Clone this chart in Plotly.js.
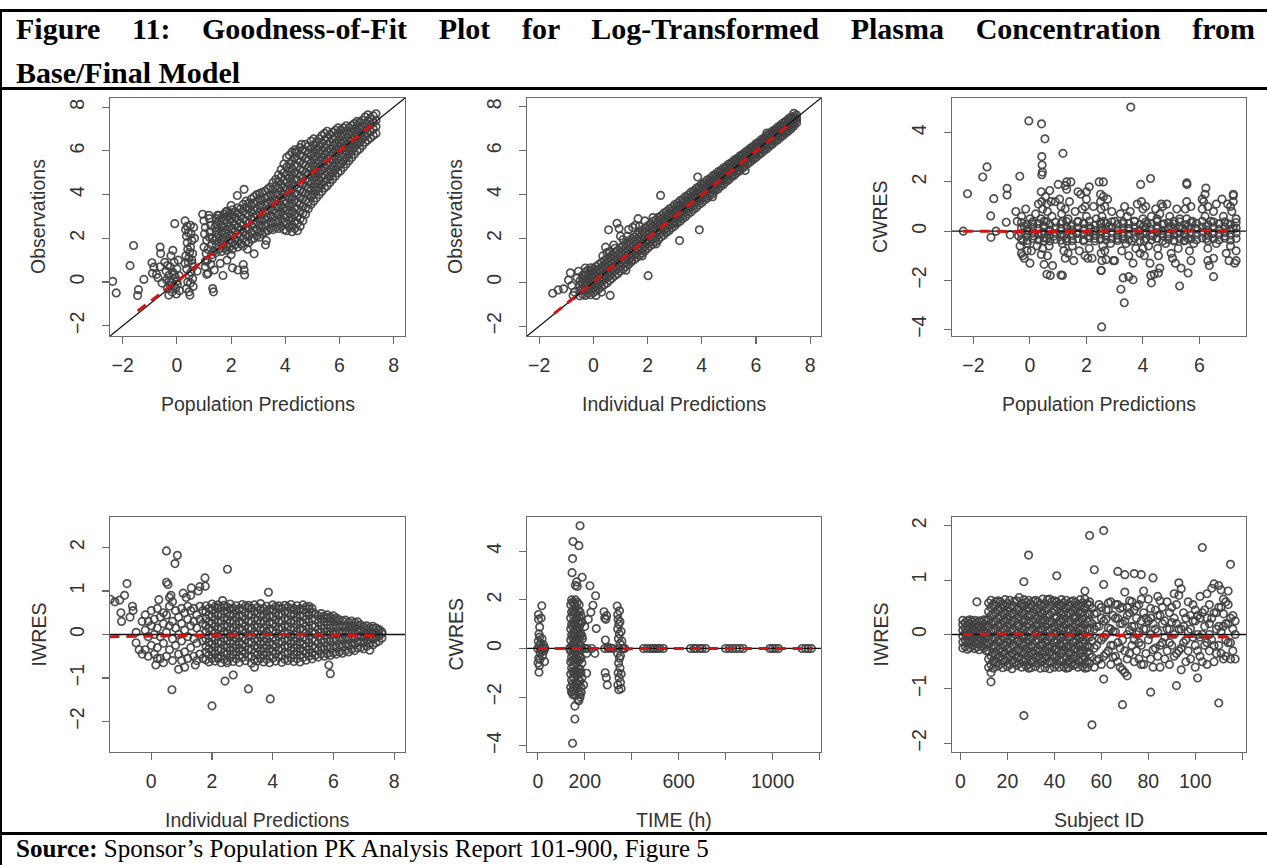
<!DOCTYPE html>
<html>
<head>
<meta charset="utf-8">
<script src="https://cdn.plot.ly/plotly-3.0.1.min.js"></script>
<style>
  html, body { margin: 0; padding: 0; background: #fff; }
  #page { position: relative; width: 1267px; height: 865px; overflow: hidden; background: #fff; }
  #gof { position: absolute; left: 0; top: 0; width: 1267px; height: 865px; }
  .rule { position: absolute; background: #000; }
  .cap { position: absolute; font-family: 'Liberation Serif', 'Times New Roman', serif; color: #000; }
  #title1 { left: 16px; top: 7px; width: 1239px; font-weight: bold; font-size: 30px; line-height: 44px;
            text-align: justify; text-align-last: justify; white-space: normal; }
  #title2 { left: 16px; top: 51px; font-weight: bold; font-size: 30px; line-height: 44px; white-space: nowrap; }
  #source { left: 16px; top: 834px; font-size: 25px; line-height: 30px; white-space: nowrap; }
</style>
</head>
<body>
<div id="page">
  <div id="gof"></div>
  <div class="rule" style="left:0;top:9px;width:1267px;height:3px"></div>
  <div class="rule" style="left:0;top:9px;width:2px;height:856px"></div>
  <div class="rule" style="left:0;top:87px;width:1267px;height:3px"></div>
  <div class="rule" style="left:0;top:832px;width:1267px;height:3px"></div>
  <div class="cap" id="title1">Figure 11: Goodness-of-Fit Plot for Log-Transformed Plasma Concentration from</div>
  <div class="cap" id="title2">Base/Final Model</div>
  <div class="cap" id="source"><b>Source:</b> Sponsor’s Population PK Analysis Report 101-900, Figure 5</div>
</div>
<script>
const W = 1267, H = 865;

// Each panel's data: isolated [x, y] points plus dense "strips"
// written as [x, y1, y2, ...] (several observations sharing one x).

// ---- DV vs PRED ----
const predObsScatter = [
[-2.37,0.03],[-2.24,-0.5],[-1.6,1.67],[-1.73,0.75],[-1.45,-0.62],[-1.42,-0.35],[-1.22,0.12],[-0.92,0.88],[-0.85,0.68],[-0.9,0.4],[-0.75,0.35],[-0.62,1.6],[-0.6,1.3],[-0.62,0.7],[-0.7,0.2],[-0.55,-0.05],
[-0.45,0.9],[-0.4,0.5],[-0.38,0.1],[-0.35,-0.3],[-0.3,0.3],[-0.3,-0.6],[-0.25,0.7],[-0.22,1.2],[-0.2,0.0],[-0.18,-0.45],[-0.15,0.45],[-0.12,-0.2],[-0.1,0.9],[-0.08,2.67],[-0.05,0.2],[-0.02,-0.55],[0.0,0.6],[0.02,-0.1],[0.05,1.0],[0.08,0.3],[0.1,-0.4],[-0.35,0.75],[-0.28,0.05],[-0.15,1.45],[-0.05,-0.3],[-0.25,-0.15],[-0.1,0.35],[0.0,0.05],
[0.3,2.8],[0.32,2.4],[0.35,2.1],[0.38,1.8],[0.4,1.5],[0.33,1.2],[0.42,0.9],[0.36,0.6],[0.45,0.3],[0.4,0.0],[0.35,-0.3],[0.48,-0.6],[0.5,2.6],[0.52,2.2],[0.55,1.9],[0.5,1.6],[0.58,1.3],[0.55,1.0],[0.6,0.7],[0.52,0.45],[0.58,0.15],[0.6,-0.2],[0.45,-0.45],[0.62,2.5],[0.65,2.0],[0.44,1.1],[0.38,2.55],[0.3,0.85],[0.47,1.35],[0.42,2.25],[0.56,0.85],[0.5,-0.05],
[0.95,3.1],[1.0,2.8],[1.05,2.5],[1.02,2.2],[1.1,1.9],[1.0,1.6],[1.08,1.3],[1.12,1.0],[1.05,0.7],[1.15,0.4],[1.2,2.9],[1.25,2.6],[1.22,2.3],[1.3,2.0],[1.28,1.7],[1.35,1.4],[1.3,1.1],[1.25,0.8],[1.38,0.55],[1.32,-0.3],[1.35,-0.45],[1.18,3.05],[0.75,0.5],[1.1,0.35],[1.4,2.5],[1.4,1.9],[1.15,1.5],[1.2,2.05],[1.28,1.25],[1.05,0.95],
[1.7,0.3],[2.05,0.65],[2.25,0.55],[2.45,0.8],[2.48,0.55],[2.5,0.32],[1.6,0.85],[1.85,1.0],[2.85,1.29],[3.27,1.7],[3.3,1.9],[2.6,1.5],[2.0,1.25],
[2.48,4.24],[2.23,3.96],[1.8,3.2],[1.5,3.05],[2.0,3.5],[4.38,5.95],[4.6,6.3]
];
const predObsStrips = [
[1.45,1.35,1.7,2.05,2.3,2.65,2.9],[1.55,1.5,1.85,2.2,2.45,2.8,3.05],[1.65,1.4,1.75,1.95,2.35,2.6,2.95],[1.75,1.55,1.9,2.25,2.5,2.85,3.1],
[1.85,1.45,1.65,2.05,2.4,2.7,3.0,3.25],[1.95,1.6,1.95,2.15,2.55,2.9,3.15],[2.05,1.5,1.8,2.1,2.45,2.75,3.05,3.3],[2.15,1.7,1.95,2.3,2.6,2.95,3.2],
[2.25,1.6,1.9,2.2,2.5,2.85,3.15,3.4],[2.35,1.75,2.05,2.4,2.7,3.0,3.35],[2.45,1.65,2.0,2.3,2.6,2.9,3.25,3.55],[2.55,1.85,2.15,2.45,2.8,3.1,3.4,3.7],
[2.65,1.8,2.1,2.4,2.7,3.05,3.35,3.6],[2.75,1.95,2.25,2.6,2.9,3.2,3.5,3.8],[2.85,2.0,2.35,2.65,2.95,3.3,3.6,3.9],[2.95,2.1,2.4,2.75,3.05,3.35,3.7,4.0],
[3.05,2.05,2.3,2.6,2.9,3.2,3.5,3.8,4.05],[3.15,2.2,2.5,2.8,3.1,3.45,3.75,4.1],[3.25,2.3,2.6,2.9,3.2,3.55,3.85,4.15],[3.35,2.35,2.65,2.95,3.3,3.6,3.9,4.25],
[3.45,2.45,2.75,3.05,3.4,3.7,4.0,4.35],[3.55,2.4,2.7,3.0,3.3,3.6,3.95,4.25,4.55],[3.65,2.5,2.8,3.15,3.45,3.75,4.05,4.4,4.7],[3.75,2.45,2.75,3.1,3.4,3.7,4.0,4.3,4.6,4.9],
[3.85,2.55,2.9,3.2,3.5,3.85,4.15,4.45,4.8,5.15],[3.95,2.4,2.75,3.05,3.4,3.7,4.0,4.35,4.65,5.0,5.4],[4.05,2.35,2.65,3.0,3.3,3.6,3.95,4.25,4.55,4.9,5.25,5.7],
[4.15,2.5,2.8,3.15,3.45,3.8,4.1,4.4,4.75,5.05,5.4,5.8],[4.25,2.3,2.6,2.95,3.25,3.6,3.9,4.25,4.55,4.9,5.2,5.55,5.95],[4.35,2.45,2.75,3.1,3.4,3.75,4.05,4.4,4.7,5.0,5.35,5.7,6.05],
[4.45,2.35,2.7,3.0,3.35,3.65,4.0,4.3,4.65,4.95,5.3,5.6,5.95],[4.55,2.55,2.9,3.2,3.55,3.85,4.2,4.5,4.85,5.15,5.5,5.8,6.15],[4.65,2.8,3.15,3.45,3.8,4.1,4.45,4.75,5.1,5.4,5.75,6.05],
[4.75,3.1,3.4,3.75,4.05,4.4,4.7,5.0,5.35,5.65,6.0,6.3],[4.85,3.35,3.65,4.0,4.3,4.6,4.95,5.25,5.6,5.9,6.2],[4.95,3.55,3.9,4.2,4.5,4.85,5.15,5.45,5.8,6.1,6.45],
[5.05,3.7,4.0,4.35,4.65,4.95,5.3,5.6,5.9,6.25,6.55],[5.15,3.85,4.2,4.5,4.8,5.1,5.45,5.75,6.05,6.4],[5.25,4.0,4.3,4.65,4.95,5.25,5.55,5.9,6.2,6.55],
[5.35,4.15,4.45,4.8,5.1,5.4,5.7,6.0,6.35,6.7],[5.45,4.3,4.6,4.9,5.2,5.55,5.85,6.15,6.5,6.8],[5.55,4.4,4.7,5.05,5.35,5.65,5.95,6.3,6.6,6.9],
[5.65,4.55,4.85,5.15,5.5,5.8,6.1,6.4,6.75],[5.75,4.7,5.0,5.3,5.6,5.9,6.25,6.55,6.85],[5.85,4.85,5.15,5.45,5.75,6.05,6.35,6.65,6.95],
[5.95,5.0,5.3,5.6,5.9,6.2,6.5,6.8,7.05],[6.05,5.1,5.4,5.75,6.05,6.35,6.65,6.95],[6.15,5.25,5.55,5.85,6.15,6.45,6.75,7.05],
[6.25,5.4,5.7,6.0,6.3,6.6,6.9,7.15],[6.35,5.55,5.85,6.15,6.45,6.75,7.05],[6.45,5.7,6.0,6.3,6.55,6.85,7.15],
[6.55,5.85,6.15,6.4,6.7,7.0,7.25],[6.65,6.0,6.3,6.55,6.85,7.15,7.35],[6.75,6.1,6.4,6.7,7.0,7.3],[6.85,6.25,6.55,6.85,7.1,7.4],
[6.95,6.4,6.65,6.95,7.25,7.55],[7.05,6.5,6.8,7.1,7.35,7.65],[7.15,6.6,6.9,7.2,7.5],[7.25,6.7,7.0,7.3,7.6],[7.35,6.8,7.1,7.4,7.7]
];

// ---- DV vs IPRED ----
const ipredObsScatter = [
[-1.5,-0.5],[-1.3,-0.35],[-1.1,-0.3],[-0.85,0.43],[-0.92,0.1],[-0.8,-0.15],[-0.7,-0.45],[-0.6,0.2],[-0.75,-0.6],[0.62,-0.6],[0.56,2.39],[0.87,2.69],[0.95,2.45],[0.45,1.6],[0.5,1.35],[0.6,1.4],[0.75,1.7],[1.25,2.1],[1.3,2.4],[1.45,2.5],[1.55,2.6],[1.65,2.9],[1.0,2.1],[2.48,3.96],[2.02,0.3],[2.32,1.75],[3.18,1.9],[3.91,2.39],[3.85,4.8],[1.8,1.2],[1.2,0.55],[0.3,-0.45],[0.1,-0.6],[2.7,2.3],[3.0,2.7],[1.4,1.0],[0.35,1.2],[-0.3,0.65],[-0.55,0.5],[5.6,5.1],[6.4,6.8],[7.4,7.7],[4.4,3.9],[1.9,2.8],[1.1,1.95],[1.7,2.55],[2.2,2.95],[0.8,1.55]
];
const ipredObsStrips = [
[-0.5,-0.62,-0.38,-0.15,0.06],[-0.4,-0.55,-0.3,-0.08,0.14,0.32],[-0.3,-0.6,-0.36,-0.13,0.09,0.3,0.46],[-0.2,-0.5,-0.28,-0.05,0.17,0.37,0.56],
[-0.1,-0.57,-0.33,-0.1,0.12,0.33,0.52,0.66],[0.0,-0.47,-0.24,0.0,0.21,0.43,0.62],[0.1,-0.38,-0.16,0.06,0.29,0.5,0.72],[0.2,-0.31,-0.07,0.15,0.37,0.59,0.81],
[0.3,-0.2,0.02,0.24,0.46,0.68,0.9],[0.4,-0.11,0.12,0.33,0.56,0.77,0.99],[0.5,-0.03,0.21,0.43,0.65,0.87,1.06],[0.6,0.09,0.31,0.53,0.75,0.96,1.16],
[0.7,0.19,0.41,0.64,0.85,1.06,1.27],[0.8,0.31,0.52,0.73,0.95,1.16,1.36],[0.9,0.39,0.61,0.83,1.04,1.26,1.46],[1.0,0.51,0.72,0.93,1.15,1.35,1.57],
[1.1,0.6,0.82,1.03,1.25,1.46,1.66],[1.2,0.72,0.92,1.14,1.36,1.56,1.77],[1.3,0.81,1.02,1.24,1.45,1.67,1.86],[1.4,0.93,1.13,1.35,1.56,1.76,1.97],
[1.5,1.02,1.23,1.45,1.66,1.87,2.06],[1.6,1.13,1.34,1.55,1.75,1.97,2.17],[1.7,1.22,1.44,1.64,1.86,2.07,2.27],[1.8,1.33,1.54,1.75,1.96,2.16,2.37],
[1.9,1.43,1.63,1.85,2.06,2.27,2.46],[2.0,1.55,1.77,1.93,2.18,2.36,2.57],[2.1,1.66,1.84,2.07,2.25,2.47,2.64],[2.2,1.73,1.96,2.14,2.37,2.55,2.77],
[2.3,1.86,2.03,2.27,2.45,2.68,2.84],[2.4,1.94,2.17,2.35,2.57,2.74,2.96],[2.5,2.07,2.24,2.47,2.65,2.88,3.03],[2.6,2.15,2.38,2.55,2.78,2.94,3.15],
[2.7,2.28,2.45,2.68,2.85,3.07,3.22],[2.8,2.36,2.58,2.76,2.98,3.13,3.34],[2.9,2.49,2.66,2.88,3.04,3.27,3.41],[3.0,2.57,2.79,2.95,3.18,3.33,3.53],
[3.1,2.7,2.86,3.09,3.24,3.46,3.6],[3.2,2.78,2.99,3.15,3.38,3.52,3.72],[3.3,2.91,3.06,3.29,3.44,3.65,3.79],[3.4,2.99,3.2,3.35,3.57,3.72,3.91],
[3.5,3.12,3.27,3.49,3.64,3.85,3.98],[3.6,3.2,3.41,3.55,3.77,3.91,4.1],[3.7,3.33,3.48,3.69,3.84,4.04,4.17],[3.8,3.41,3.62,3.76,3.97,4.1,4.29],
[3.9,3.54,3.69,3.89,4.03,4.24,4.36],[4.0,3.62,3.82,3.96,4.17,4.3,4.47],[4.1,3.75,3.89,4.1,4.23,4.43,4.55],[4.2,3.83,4.03,4.16,4.37,4.49,4.66],
[4.3,3.96,4.09,4.3,4.43,4.62,4.73],[4.4,4.04,4.23,4.36,4.57,4.68,4.85],[4.5,4.17,4.3,4.5,4.63,4.81,4.92],[4.6,4.25,4.44,4.56,4.76,4.87,5.03],
[4.7,4.38,4.5,4.7,4.82,5.0,5.1],[4.8,4.46,4.64,4.76,4.96,5.06,5.21],[4.9,4.59,4.7,4.9,5.02,5.19,5.28],[5.0,4.67,4.84,4.96,5.15,5.25,5.39],
[5.1,4.8,4.9,5.1,5.21,5.38,5.46],[5.2,4.88,5.04,5.16,5.34,5.44,5.57],[5.3,5.0,5.1,5.29,5.4,5.57,5.64],[5.4,5.08,5.24,5.35,5.53,5.63,5.75],
[5.5,5.2,5.3,5.48,5.6,5.76,5.82],[5.6,5.29,5.44,5.55,5.72,5.82,5.93],[5.7,5.4,5.5,5.68,5.79,5.95,6.01],[5.8,5.49,5.64,5.75,5.91,6.02,6.12],
[5.9,5.6,5.7,5.87,5.98,6.14,6.2],[6.0,5.69,5.84,5.95,6.1,6.21,6.31],[6.1,5.8,5.9,6.07,6.18,6.33,6.39],[6.2,5.89,6.04,6.15,6.3,6.4,6.5],
[6.3,6.0,6.1,6.27,6.37,6.52,6.58],[6.4,6.09,6.24,6.34,6.49,6.59,6.69],[6.5,6.2,6.3,6.46,6.57,6.71,6.77],[6.6,6.29,6.43,6.54,6.68,6.78,6.88],
[6.7,6.4,6.5,6.66,6.76,6.9,6.96],[6.8,6.49,6.63,6.73,6.88,6.97,7.07],[6.9,6.6,6.7,6.85,6.95,7.09,7.15],[7.0,6.69,6.83,6.93,7.07,7.16,7.26],
[7.1,6.8,6.9,7.05,7.14,7.28,7.34],[7.2,6.89,7.03,7.12,7.26,7.35,7.45],[7.3,7.0,7.1,7.24,7.33,7.47,7.53],[7.4,7.12,7.22,7.31,7.45,7.56],[7.5,7.26,7.38,7.5,7.62]
];

// ---- CWRES vs PRED ----
const predCwresScatter = [
[-2.21,1.52],[-2.36,0.0],[-1.67,2.2],[-1.52,2.61],[-1.39,0.62],[-1.28,1.32],[-1.38,-0.25],[-1.2,0.0],[-0.81,1.74],[-0.81,1.47],[-0.84,0.36],[-0.7,-0.15],[-0.36,2.23],[-0.04,4.48],[0.41,4.36],[0.53,3.75],[0.42,3.03],[0.43,2.69],[0.44,2.4],[0.42,2.29],[1.17,3.16],[3.57,5.04],[4.27,2.14],[3.92,1.9],[5.55,1.96],[5.56,1.9],[6.23,1.75],[2.54,-3.89],[3.34,-2.91],[3.22,-2.36],[3.3,-1.9],[3.5,-1.85],[3.65,-1.98],[4.3,-2.1],[4.28,-1.8],[4.4,-1.75],[5.3,-2.23],[5.6,-1.7],[6.5,-1.85],[2.52,-1.6],[0.6,-1.75],[1.1,-1.78],[1.25,1.85],[1.45,2.0],[2.0,1.6],[2.6,2.0],[1.95,1.0],[0.9,1.2],[-0.25,-1.0],[-0.1,-0.8],[6.1,1.3],[7.2,1.45],[7.3,-1.2],[4.65,1.1],[3.0,-1.2],[2.05,-1.1],
[-0.5,0.8],[-0.45,0.4],[-0.4,-0.2],[-0.35,-0.6],[-0.3,-0.9],[-0.3,0.6],[-0.25,-0.4],[-0.2,0.2],[-0.2,-1.1],[-0.15,0.9],[-0.1,-0.5],[-0.05,0.0],[0.0,-1.3],[0.0,0.5],[0.05,-0.8],[0.1,0.3],[0.15,-0.2],[0.2,0.7],[0.25,-0.6],[0.3,1.1],
[0.4,1.6],[0.42,1.2],[0.45,0.9],[0.4,0.5],[0.48,0.2],[0.42,-0.1],[0.5,-0.4],[0.45,-0.7],[0.4,-0.95],[0.5,-1.35],[0.55,1.4],[0.6,1.1],[0.62,0.8],[0.58,0.4],[0.65,0.0],[0.6,-0.3],[0.68,-0.6],[0.62,-1.0],[0.72,-1.8],[0.7,1.65],[0.75,1.2],[0.78,0.6],[0.8,-1.4],[0.85,-0.2],
[1.0,1.9],[1.05,1.3],[1.1,1.0],[1.12,0.7],[1.15,0.4],[1.1,0.1],[1.2,-0.2],[1.15,-0.5],[1.2,-0.8],[1.25,-1.1],[1.15,-1.8],[1.3,1.7],[1.3,2.0],[1.25,0.9],[1.35,0.5],[1.3,-0.4],[1.35,-0.9],[1.4,1.2],[1.45,0.2],[1.5,-0.6],[1.55,-1.2],[1.6,0.8],[1.65,-0.1],[1.7,0.4],
[1.8,1.5],[1.85,0.9],[1.9,0.3],[1.9,-0.4],[1.95,-1.0],[2.0,1.3],[2.0,0.6],[2.05,-0.2],[2.1,-0.7],[2.1,1.8],[2.15,0.1],[2.2,-1.1],[2.25,1.0],[2.3,-0.3],[2.35,0.5],[1.75,-0.8],[1.7,1.6],
[2.45,2.0],[2.5,1.5],[2.5,1.2],[2.52,0.9],[2.55,0.6],[2.5,0.3],[2.55,0.0],[2.5,-0.3],[2.58,-0.6],[2.52,-0.9],[2.55,-1.2],[2.52,-1.6],[2.6,1.4],[2.65,1.0],[2.62,0.4],[2.68,-0.2],[2.65,-0.8],[2.7,-1.15],[2.75,1.3],[2.8,0.2],[2.85,-0.5],[2.9,0.8],[2.95,-1.2],[3.0,0.4],
[3.1,-0.3],[3.2,0.7],[3.25,-0.8],[3.3,0.3],[3.3,-0.2],[3.35,1.0],[3.4,-0.5],[3.45,0.6],[3.5,-1.0],[3.5,0.1],[3.55,0.8],[3.6,-0.4],[3.65,-1.3],[3.7,0.4],[3.75,-0.7],[3.8,1.1],[3.85,0.0],[3.9,-0.9],
[3.95,1.2],[4.0,0.9],[4.0,0.5],[4.02,0.2],[4.0,-0.1],[4.05,-0.4],[4.0,-0.7],[4.05,-1.0],[4.1,1.0],[4.15,0.3],[4.2,-0.6],[4.25,-1.3],[4.3,0.6],[4.35,-0.2],
[4.45,0.9],[4.5,0.5],[4.5,0.1],[4.5,-0.3],[4.52,-0.7],[4.55,-1.0],[4.6,-1.5],[4.55,-1.7],[4.6,0.7],[4.65,-0.1],[4.7,1.0],[4.75,0.3],[4.8,-0.5],[4.85,1.1],[4.9,-0.2],
[4.95,0.6],[5.0,0.2],[5.0,-0.9],[5.05,-1.1],[5.1,0.4],[5.1,-0.4],[5.15,-1.3],[5.2,0.9],[5.2,-0.1],[5.25,-0.7],[5.3,0.5],[5.35,-1.5],[5.4,0.1],[5.45,-0.4],
[5.5,0.9],[5.55,0.5],[5.55,1.2],[5.6,0.2],[5.6,-0.3],[5.65,-0.8],[5.7,1.0],[5.7,-1.2],[5.75,0.4],[5.8,-0.5],[5.85,0.1],
[6.1,0.9],[6.15,1.2],[6.2,1.5],[6.2,0.6],[6.25,0.2],[6.25,-0.3],[6.3,-0.7],[6.3,-1.2],[6.35,-1.4],[6.3,1.0],[6.4,0.4],[6.45,-0.1],[6.5,0.8],[6.5,-1.1],[6.6,1.1],[6.6,-0.5],[6.7,0.3],
[6.8,1.3],[6.85,0.6],[6.9,-0.2],[6.95,-0.9],[7.0,1.1],[7.0,0.3],[7.05,-1.2],[7.1,-0.6],[7.15,0.8],[7.2,1.5],[7.2,0.1],[7.25,-1.3],[7.3,0.5],[7.3,-0.8],[7.2,1.2],[7.1,1.0]
];
const predCwresStrips = [
[-0.3,-0.32,-0.1,0.12,0.35],[-0.1,-0.38,-0.15,0.06,0.28],[0.1,-0.3,-0.08,0.15,0.38],[0.3,-0.36,-0.12,0.1,0.31],[0.5,-0.28,-0.05,0.18,0.4],
[0.7,-0.4,-0.16,0.05,0.27],[0.9,-0.33,-0.1,0.13,0.36],[1.1,-0.37,-0.14,0.08,0.3],[1.3,-0.29,-0.06,0.16,0.39],[1.5,-0.39,-0.17,0.04,0.26],
[1.7,-0.31,-0.09,0.14,0.37],[1.9,-0.35,-0.13,0.09,0.32],[2.1,-0.27,-0.04,0.19,0.41],[2.3,-0.4,-0.18,0.03,0.25],[2.5,-0.33,-0.11,0.12,0.35],
[2.7,-0.36,-0.15,0.07,0.3],[2.9,-0.3,-0.07,0.15,0.38],[3.1,-0.38,-0.16,0.05,0.28],[3.3,-0.32,-0.1,0.13,0.36],[3.5,-0.35,-0.13,0.09,0.31],
[3.7,-0.28,-0.05,0.17,0.4],[3.9,-0.39,-0.17,0.04,0.27],[4.1,-0.31,-0.08,0.14,0.37],[4.3,-0.36,-0.14,0.08,0.3],[4.5,-0.29,-0.06,0.16,0.39],
[4.7,-0.4,-0.18,0.03,0.26],[4.9,-0.33,-0.11,0.11,0.34],[5.1,-0.37,-0.15,0.07,0.29],[5.3,-0.3,-0.08,0.15,0.38],[5.5,-0.38,-0.16,0.05,0.27],
[5.7,-0.32,-0.1,0.12,0.35],[5.9,-0.35,-0.13,0.09,0.32],[6.1,-0.28,-0.05,0.17,0.4],[6.3,-0.39,-0.17,0.04,0.26],[6.5,-0.31,-0.09,0.14,0.37],
[6.7,-0.36,-0.14,0.08,0.3],[6.9,-0.29,-0.06,0.16,0.38],[7.1,-0.37,-0.15,0.06,0.28],[7.3,-0.3,-0.08,0.13,0.35]
];

// ---- IWRES vs IPRED ----
const ipredIwresScatter = [
[-1.35,0.81],[-1.04,0.79],[-0.8,1.17],[-0.88,0.9],[-1.0,0.5],[-0.98,0.3],[-0.62,0.65],[-0.6,0.55],[-0.5,-0.19],[0.5,1.92],[0.86,1.82],[0.78,1.63],[0.5,1.2],[0.55,1.15],[0.68,-1.27],[2.0,-1.64],[2.51,1.5],[2.43,-1.07],[2.7,-0.93],[3.2,-1.25],[3.86,0.97],[3.92,-1.48],[1.77,1.3],[1.78,1.11],[1.32,1.07],[1.3,0.9],[5.85,-0.7],[5.9,-0.9],[-1.2,0.75],[-0.7,0.4],[-0.4,-0.35],[-0.3,-0.45],[0.6,0.85],[0.7,0.75],[1.05,0.95],[1.55,1.0],[1.6,1.1],[0.9,-0.8],[1.1,-0.75],[0.4,-0.65],[0.2,-0.55],[1.45,-0.7],[2.5,-0.65],[3.4,-0.75],[2.2,-0.55],[2.35,0.78],[-0.5,0.05],[-0.3,0.3],[0.25,0.8],[0.65,0.9],[1.15,0.85],[0.15,-0.7]
];
const ipredIwresStrips = [
[-0.2,-0.35,0.1,0.45],[-0.1,-0.5,-0.05,0.3],[0.0,-0.25,0.2,0.55],[0.1,-0.45,0.0,0.35],[0.2,-0.3,0.15,0.6],[0.3,-0.55,-0.05,0.4],[0.4,-0.2,0.25,0.5],[0.5,-0.5,0.05,0.45],
[0.6,-0.35,0.2,0.65],[0.7,-0.6,-0.1,0.3],[0.8,-0.25,0.15,0.55],[0.9,-0.45,0.0,0.4],[1.0,-0.6,-0.15,0.25,0.6],[1.1,-0.4,0.1,0.5],[1.2,-0.55,-0.05,0.35,0.65],[1.3,-0.3,0.2,0.55],
[1.4,-0.5,-0.1,0.3,0.6],[1.5,-0.6,-0.2,0.15,0.45],[1.6,-0.45,0.0,0.35,0.65],[1.7,-0.55,-0.15,0.25,0.55],
[1.8,-0.58,-0.41,-0.27,-0.1,0.06,0.2,0.37,0.52,0.66],[1.9,-0.63,-0.47,-0.33,-0.18,-0.02,0.14,0.29,0.45,0.6],[2.0,-0.55,-0.38,-0.22,-0.07,0.1,0.25,0.41,0.57,0.7],
[2.1,-0.61,-0.44,-0.29,-0.13,0.03,0.18,0.34,0.49,0.64],[2.2,-0.52,-0.36,-0.2,-0.04,0.13,0.28,0.44,0.6,0.68],[2.3,-0.65,-0.49,-0.34,-0.16,-0.01,0.16,0.31,0.47,0.62],
[2.4,-0.57,-0.4,-0.25,-0.09,0.07,0.22,0.39,0.54,0.67],[2.5,-0.6,-0.45,-0.3,-0.14,0.02,0.18,0.33,0.5,0.63],[2.6,-0.54,-0.37,-0.21,-0.05,0.11,0.27,0.43,0.58,0.7],
[2.7,-0.62,-0.46,-0.31,-0.15,0.0,0.15,0.32,0.47,0.61],[2.8,-0.56,-0.39,-0.24,-0.08,0.08,0.23,0.4,0.55,0.66],[2.9,-0.64,-0.48,-0.32,-0.17,-0.03,0.13,0.3,0.44,0.59],
[3.0,-0.53,-0.37,-0.23,-0.06,0.11,0.26,0.42,0.58,0.69],[3.1,-0.6,-0.43,-0.28,-0.12,0.04,0.19,0.35,0.5,0.65],[3.2,-0.51,-0.35,-0.19,-0.03,0.14,0.29,0.45,0.61,0.67],
[3.3,-0.66,-0.5,-0.35,-0.17,-0.02,0.15,0.3,0.46,0.61],[3.4,-0.58,-0.41,-0.26,-0.1,0.06,0.21,0.38,0.53,0.68],[3.5,-0.61,-0.46,-0.31,-0.15,0.01,0.17,0.32,0.49,0.62],
[3.6,-0.55,-0.38,-0.22,-0.06,0.1,0.26,0.42,0.57,0.71],[3.7,-0.63,-0.47,-0.32,-0.16,-0.01,0.14,0.31,0.46,0.6],[3.8,-0.57,-0.4,-0.25,-0.09,0.07,0.22,0.39,0.54,0.65],
[3.9,-0.65,-0.49,-0.33,-0.18,-0.04,0.12,0.29,0.43,0.58],[4.0,-0.54,-0.38,-0.24,-0.07,0.1,0.25,0.41,0.57,0.68],[4.1,-0.61,-0.44,-0.29,-0.13,0.03,0.18,0.34,0.49,0.64],
[4.2,-0.52,-0.36,-0.2,-0.04,0.13,0.28,0.44,0.59,0.66],[4.3,-0.64,-0.48,-0.33,-0.16,-0.01,0.16,0.31,0.47,0.61],[4.4,-0.57,-0.41,-0.26,-0.1,0.06,0.21,0.38,0.53,0.67],
[4.5,-0.6,-0.44,-0.29,-0.14,0.02,0.18,0.33,0.5,0.63],[4.6,-0.54,-0.37,-0.21,-0.05,0.11,0.27,0.43,0.58,0.69],[4.7,-0.62,-0.46,-0.31,-0.15,0.0,0.15,0.32,0.47,0.6],
[4.8,-0.56,-0.39,-0.24,-0.08,0.08,0.23,0.4,0.55,0.66],[4.9,-0.63,-0.47,-0.32,-0.17,-0.03,0.13,0.3,0.44,0.59],[5.0,-0.53,-0.37,-0.23,-0.06,0.11,0.26,0.42,0.57,0.68],
[5.1,-0.59,-0.43,-0.28,-0.12,0.04,0.19,0.35,0.5,0.63],[5.2,-0.5,-0.34,-0.19,-0.03,0.14,0.29,0.45,0.58,0.65],[5.3,-0.56,-0.42,-0.27,-0.11,0.05,0.2,0.36,0.51,0.6],
[5.4,-0.48,-0.31,-0.15,0.02,0.18,0.35,0.47],[5.5,-0.52,-0.36,-0.2,-0.04,0.12,0.28,0.43],[5.6,-0.45,-0.29,-0.12,0.05,0.2,0.36,0.48],[5.7,-0.5,-0.34,-0.18,-0.02,0.14,0.3,0.42],
[5.8,-0.44,-0.27,-0.1,0.06,0.22,0.37,0.45],[5.9,-0.48,-0.32,-0.16,0.0,0.15,0.3,0.4],[6.0,-0.42,-0.26,-0.1,0.06,0.21,0.35,0.43],[6.1,-0.45,-0.3,-0.14,0.02,0.16,0.3,0.38],
[6.2,-0.4,-0.24,-0.08,0.07,0.21,0.34],[6.3,-0.43,-0.28,-0.12,0.03,0.17,0.31],[6.4,-0.37,-0.22,-0.07,0.08,0.2,0.33],[6.5,-0.4,-0.26,-0.11,0.03,0.16,0.28],
[6.6,-0.34,-0.2,-0.06,0.08,0.2,0.31],[6.7,-0.37,-0.23,-0.09,0.04,0.16,0.27],[6.8,-0.31,-0.18,-0.05,0.08,0.2,0.29],[6.9,-0.3,-0.16,-0.03,0.1,0.22],
[7.0,-0.33,-0.19,-0.06,0.06,0.17],[7.1,-0.27,-0.14,-0.01,0.11,0.2],[7.2,-0.36,-0.2,-0.06,0.06,0.16],[7.3,-0.24,-0.11,0.02,0.13,0.19],
[7.4,-0.19,-0.07,0.04,0.15],[7.5,-0.15,-0.03,0.08,0.12],[7.6,-0.08,0.02,0.06]
];

// ---- CWRES vs TIME ----
const timeCwresScatter = [
[0,0.0],[2,0.3],[3,1.4],[3,1.2],[4,-0.4],[5,0.6],[5,-0.98],[6,0.1],[7,-0.7],[8,0.47],[8,0.88],[10,-0.2],[12,0.2],[15,-0.05],[17,1.76],[18,0.4],[20,-0.3],[22,0.05],[24,0.15],[26,-0.1],[29,-0.54],[30,0.0],[1,-0.6],[9,-0.45],[14,1.25],[11,0.0],[25,0.0],[28,0.02],
[180,5.05],[150,4.4],[175,4.23],[148,3.7],[146,3.12],[165,2.74],[189,2.93],[222,2.58],[246,2.17],[160,2.6],[168,2.55],[235,1.78],[226,1.49],[249,0.82],[208,-0.2],[208,-1.02],[243,-0.2],[158,-2.37],[158,-2.9],[148,-3.9],[180,-2.0],[175,-2.15],[185,-1.8],[190,0.4],[215,1.2],[230,0.0],[200,0.9],[195,-1.5],[170,-2.1],[145,-1.75],[150,-1.9],
[282,1.51],[285,1.25],[290,1.2],[288,0.35],[292,-1.2],[296,-1.5],[285,0.0],[300,0.0],[310,0.02],[293,1.35],[287,-1.0],[298,0.05],
[338,1.75],[340,1.4],[342,1.2],[345,1.0],[340,0.8],[347,0.6],[343,0.4],[350,0.2],[345,0.0],[340,-0.2],[348,-0.4],[344,-0.6],[350,-0.8],[342,-1.0],[346,-1.2],[352,-1.4],[341,-1.5],[345,-1.7],[355,-1.65],[350,1.1],[355,0.7],[352,-0.3],[358,0.3],[360,0.0],[365,0.0],[370,0.0],[348,1.55],[355,-1.05],
[135,0.0],[150,0.0],[165,0.0],[200,0.0],[210,0.0],[320,0.0],
[450,0.0],[465,0.0],[480,0.0],[490,0.0],[500,0.0],[510,0.0],[520,0.0],[535,0.0],[650,0.0],[665,0.0],[675,0.0],[690,0.0],[700,0.0],[715,0.0],
[800,0.0],[815,0.0],[830,0.0],[845,0.0],[860,0.0],[875,0.0],[988,0.0],[1000,0.0],[1012,0.0],[1025,0.0],[1125,0.0],[1140,0.0],[1152,0.0],[1165,0.0]
];
const timeCwresStrips = [
[140,-1.6,-1.05,-0.55,-0.1,0.35,0.8,1.25,1.8],[144,-1.8,-1.3,-0.8,-0.35,0.1,0.55,1.0,1.5,2.0],[148,-1.45,-0.95,-0.5,0.0,0.45,0.9,1.4,1.9],
[152,-1.7,-1.2,-0.7,-0.25,0.2,0.65,1.1,1.6],[156,-1.55,-1.0,-0.45,0.05,0.5,1.0,1.5,1.85],[160,-1.9,-1.4,-0.9,-0.4,0.05,0.5,0.95,1.45,2.0],
[164,-1.6,-1.1,-0.6,-0.15,0.3,0.75,1.2,1.7],[168,-1.45,-0.95,-0.45,0.0,0.45,0.9,1.4,1.9],[172,-1.8,-1.3,-0.8,-0.3,0.15,0.6,1.05,1.55],
[176,-1.5,-1.0,-0.5,-0.05,0.4,0.85,1.3,1.8],[180,-1.9,-1.35,-0.85,-0.35,0.1,0.55,1.0,1.5],[184,-1.6,-1.0,-0.4,0.1,0.6,1.05,1.35],[188,-1.2,-0.6,0.0,0.5,1.1]
];

// ---- IWRES vs subject ID ----
const idIwresScatter = [];
const idIwresStrips = [
[1,-0.25,-0.14,-0.03,0.08,0.18,0.26],[2,-0.22,-0.1,0.02,0.12,0.22],[3,-0.27,-0.16,-0.05,0.06,0.16,0.25],[4,-0.24,-0.12,-0.01,0.1,0.2,0.27],
[5,-0.2,-0.08,0.03,0.14,0.24],[6,-0.26,-0.15,-0.04,0.07,0.17,0.26],[7,-0.23,-0.11,0.0,0.11,0.21,0.6],[8,-0.28,-0.17,-0.06,0.05,0.15,0.25],
[9,-0.21,-0.09,0.02,0.13,0.23],[10,-0.25,-0.14,-0.03,0.08,0.19,0.27],[11,-0.3,-0.18,-0.07,0.04,0.15,0.26],
[12,-0.6,-0.45,-0.3,-0.16,-0.02,0.13,0.27,0.42,0.58],[13,-0.87,-0.7,-0.55,-0.39,-0.24,-0.09,0.06,0.2,0.35,0.5,0.63],[14,-0.62,-0.48,-0.33,-0.2,-0.05,0.09,0.24,0.38,0.55],
[15,-0.52,-0.37,-0.22,-0.06,0.09,0.23,0.39,0.53,0.6],[16,-0.58,-0.44,-0.29,-0.14,0.0,0.15,0.29,0.44,0.62],[17,-0.54,-0.4,-0.25,-0.1,0.05,0.19,0.34,0.49,0.6],
[18,-0.61,-0.46,-0.31,-0.18,-0.03,0.11,0.26,0.41,0.56],[19,-0.5,-0.36,-0.21,-0.07,0.08,0.22,0.37,0.52,0.64],[20,-0.59,-0.43,-0.28,-0.15,-0.01,0.14,0.28,0.43,0.57],
[21,-0.55,-0.39,-0.24,-0.09,0.06,0.2,0.35,0.5,0.63],[22,-0.63,-0.47,-0.34,-0.19,-0.04,0.1,0.25,0.39,0.54],[23,-0.51,-0.38,-0.21,-0.07,0.08,0.24,0.38,0.52,0.61],
[24,-0.57,-0.43,-0.3,-0.13,0.01,0.16,0.3,0.45,0.62],[25,-0.53,-0.41,-0.26,-0.11,0.04,0.18,0.33,0.48,0.68],[26,-0.6,-0.45,-0.32,-0.17,-0.02,0.12,0.27,0.4,0.57],
[27,-1.49,-0.5,-0.36,-0.21,-0.07,0.08,0.22,0.37,0.52,0.64,0.97],[28,-0.58,-0.46,-0.29,-0.15,-0.03,0.14,0.26,0.43,0.59],[29,-0.62,-0.55,-0.39,-0.24,-0.09,0.06,0.2,0.35,0.5,0.63,1.46],
[30,-0.61,-0.47,-0.32,-0.21,-0.06,0.08,0.25,0.37,0.56],[31,-0.51,-0.36,-0.23,-0.05,0.1,0.22,0.4,0.52,0.61],[32,-0.59,-0.43,-0.3,-0.13,0.01,0.16,0.28,0.45,0.63],
[33,-0.53,-0.39,-0.26,-0.09,0.06,0.18,0.35,0.48,0.6],[34,-0.62,-0.45,-0.3,-0.19,-0.02,0.1,0.27,0.42,0.55],[35,-0.49,-0.37,-0.2,-0.08,0.09,0.21,0.38,0.51,0.65],
[36,-0.61,-0.44,-0.31,-0.15,-0.03,0.14,0.26,0.43,0.57],[37,-0.54,-0.4,-0.23,-0.1,0.07,0.19,0.36,0.49,0.64],[38,-0.63,-0.49,-0.32,-0.21,-0.04,0.08,0.25,0.37,0.65],
[39,-0.51,-0.38,-0.23,-0.05,0.1,0.22,0.4,0.54,0.61],[40,-0.6,-0.43,-0.28,-0.15,0.01,0.14,0.3,0.45,0.62],[41,-0.55,-0.39,-0.26,-0.09,0.04,0.2,0.33,0.5,0.6,1.08],
[42,-0.6,-0.47,-0.3,-0.19,-0.02,0.12,0.25,0.42,0.55],[43,-0.5,-0.35,-0.22,-0.06,0.07,0.23,0.36,0.53,0.64],[44,-0.59,-0.46,-0.29,-0.17,-0.01,0.12,0.28,0.41,0.58],
[45,-0.62,-0.54,-0.4,-0.23,-0.1,0.07,0.19,0.36,0.49,0.63],[46,-0.61,-0.49,-0.32,-0.21,-0.04,0.1,0.23,0.39,0.54],[47,-0.53,-0.36,-0.23,-0.05,0.08,0.24,0.38,0.54,0.6],
[48,-0.57,-0.45,-0.28,-0.15,0.01,0.14,0.3,0.43,0.62],[49,-0.55,-0.39,-0.26,-0.09,0.04,0.2,0.33,0.5,0.59],[50,-0.6,-0.47,-0.3,-0.19,-0.02,0.12,0.25,0.42,0.55],
[51,-0.51,-0.35,-0.22,-0.06,0.09,0.21,0.38,0.51,0.64],[52,-0.59,-0.46,-0.29,-0.17,-0.01,0.12,0.28,0.41,0.58],[53,-0.62,-0.54,-0.4,-0.23,-0.1,0.07,0.19,0.36,0.49,0.65,0.8],
[54,-0.61,-0.49,-0.32,-0.21,-0.04,0.1,0.23,0.39,0.56],[55,-0.53,-0.36,-0.23,-0.05,0.08,0.24,0.38,0.54,0.6,1.82],
[56,-1.66,-0.42,-0.12,0.2,0.48],[57,-0.6,-0.25,0.1,0.38,1.19],[58,-0.48,-0.2,0.15,0.4],[59,-0.45,-0.08,0.15,0.55],[60,-0.55,-0.1,0.3,0.5],
[61,-0.82,-0.4,-0.05,0.25,0.92,1.91],[62,-0.35,0.0,0.28,0.45],[63,-0.3,0.12,0.45,0.58],[64,-0.55,-0.2,0.1,0.6],[65,-0.42,-0.2,0.05,0.35],
[66,-0.4,0.05,0.3,0.55],[67,-0.5,-0.15,0.3,0.55,1.16],[68,-0.6,-0.25,0.2,0.48],[69,-1.29,-0.65,-0.1,0.2,0.5],[70,-0.7,-0.3,0.25,0.78,1.1],
[71,-0.76,-0.45,0.0,0.35,0.5],[72,-0.35,0.08,0.4,0.62],[73,-0.2,0.15,0.6],[74,-0.5,-0.1,0.15,0.45,1.12],[75,-0.3,0.0,0.3,0.52],
[76,-0.45,-0.15,0.05,0.55],[77,-0.55,-0.2,0.25,0.65,1.1],[78,-0.55,0.1,0.4,0.8],[79,-0.35,0.1,0.3],[80,-0.1,0.25,0.65],
[81,-1.06,-0.45,0.0,0.3,0.48],[82,-0.6,-0.28,0.2,1.04],[83,-0.25,0.1,0.45],[84,-0.4,0.05,0.35,0.7],[85,-0.6,-0.2,0.35,0.62],
[86,-0.15,0.2,0.5],[87,-0.45,-0.05,0.25],[88,-0.3,0.1,0.6],[89,-0.55,-0.15,0.1,0.4],[90,-0.2,0.22,0.5],
[91,-0.4,0.0,0.3,0.75],[92,-0.94,-0.35,0.2,0.55],[93,-0.3,0.1,0.72,0.95],[94,-0.65,-0.25,0.1,0.84],[95,-0.15,0.15,0.4],
[96,-0.5,-0.1,0.3],[97,-0.3,0.05,0.6],[98,-0.45,0.1,0.35],[99,-0.05,0.25,0.55],[100,-0.6,-0.2,0.25,0.45],
[101,-0.8,-0.3,0.0,0.35],[102,-0.4,-0.05,0.3,0.7],[103,-0.5,0.0,0.4,1.6],[104,-0.2,0.15,0.45],[105,-0.55,-0.15,0.3,0.75],
[106,-0.3,0.0,0.2,0.55],[107,-0.1,0.3,0.85],[108,-0.5,-0.2,0.4,0.93],[109,-0.35,0.1,0.4],[110,-1.26,-0.2,0.15,0.5,0.9],
[111,-0.35,0.05,0.5,0.82],[112,-0.45,0.15,0.38,0.65],[113,-0.4,-0.1,0.2,0.6],[114,-0.15,0.2,0.55,0.8],[115,-0.45,-0.15,0.3,1.29],
[116,-0.3,0.1,0.35],[117,-0.45,0.0,0.25]
];

// loess smooths through each panel
const predObsSmoothX = [-1.45,-0.8,0,0.5,1,2,3,4,5,6,7,7.38];
const predObsSmoothY = [-1.32,-0.72,0.02,0.5,1.0,2.0,3.0,4.0,5.0,6.0,7.0,7.32];
const ipredObsSmoothX = [-1.45,-0.5,0.5,1.5,2.5,3.5,4.5,5.5,6.5,7.33];
const ipredObsSmoothY = [-1.43,-0.5,0.48,1.5,2.5,3.5,4.5,5.5,6.5,7.3];
const predCwresSmoothX = [-2.38,-1,0,1,2,3,4,5,6,7.1];
const predCwresSmoothY = [0,-0.02,-0.03,-0.02,0,0,0,0,0.01,0.02];
const ipredIwresSmoothX = [-1.38,-0.5,0.5,1.5,2.5,3.5,4.5,5.5,6.5,7.45];
const ipredIwresSmoothY = [-0.05,-0.04,-0.03,-0.01,0,0,0,-0.01,-0.02,-0.03];
const timeCwresSmoothX = [0,100,200,300,400,600,800,1000,1169];
const timeCwresSmoothY = [0,0.01,0,-0.01,0,0,0,0,0];
const idIwresSmoothX = [1,20,40,55,70,90,110,117];
const idIwresSmoothY = [0.0,0.01,0.0,-0.01,-0.03,-0.04,-0.05,-0.05];

// tick positions and labels
const ticksLog = [-2,0,2,4,6,8];
const ticksPredRes = [-2,0,2,4,6];
const ticksIpredRes = [0,2,4,6,8];
const ticksCwres = [-4,-2,0,2,4];
const ticksIwres = [-2,-1,0,1,2];
const ticksTime = [0,200,400,600,800,1000,1200];
const tickLabelsTime = ['0','200','','600','','1000',''];
const ticksId = [0,20,40,60,80,100,120];
const tickLabelsId = ['0','20','40','60','80','100',''];

const xTitles = ['Population Predictions','Individual Predictions','Population Predictions','Individual Predictions','TIME (h)','Subject ID'];
const yTitles = ['Observations','Observations','CWRES','IWRES','CWRES','IWRES'];

// ---- 2 x 3 grid (pixel boxes of the plotting regions) ----
const cols = [[110,405],[527,821],[952,1246]];
const rows = [[98,336],[517,752]];

function collect(scatter, strips) {
  const x = [], y = [];
  scatter.forEach(([a, b]) => { x.push(a); y.push(b); });
  strips.forEach(([a, ...ys]) => ys.forEach(b => { x.push(a); y.push(b); }));
  return {x, y};
}

const panels = [
  {d: collect(predObsScatter, predObsStrips),       sx: predObsSmoothX,    sy: predObsSmoothY,    ref: 'identity', xr: [-2.47,8.42], yr: [-2.47,8.42], xt: ticksLog,      yt: ticksLog,   c: 0, r: 0},
  {d: collect(ipredObsScatter, ipredObsStrips),     sx: ipredObsSmoothX,   sy: ipredObsSmoothY,   ref: 'identity', xr: [-2.45,8.4],  yr: [-2.45,8.4],  xt: ticksLog,      yt: ticksLog,   c: 1, r: 0},
  {d: collect(predCwresScatter, predCwresStrips),   sx: predCwresSmoothX,  sy: predCwresSmoothY,  ref: 'zero',     xr: [-2.76,7.65], yr: [-4.26,5.41], xt: ticksPredRes,  yt: ticksCwres, c: 2, r: 0},
  {d: collect(ipredIwresScatter, ipredIwresStrips), sx: ipredIwresSmoothX, sy: ipredIwresSmoothY, ref: 'zero',     xr: [-1.36,8.36], yr: [-2.7,2.7],   xt: ticksIpredRes, yt: ticksIwres, c: 0, r: 1},
  {d: collect(timeCwresScatter, timeCwresStrips),   sx: timeCwresSmoothX,  sy: timeCwresSmoothY,  ref: 'zero',     xr: [-46,1206],   yr: [-4.26,5.41], xt: ticksTime, xtt: tickLabelsTime, yt: ticksCwres, c: 1, r: 1},
  {d: collect(idIwresScatter, idIwresStrips),       sx: idIwresSmoothX,    sy: idIwresSmoothY,    ref: 'zero',     xr: [-3.6,121.6], yr: [-2.16,2.16], xt: ticksId, xtt: tickLabelsId, yt: ticksIwres, c: 2, r: 1}
];

const FONT = 'Liberation Sans, Arial, Helvetica, sans-serif';
const AXCOL = '#6a6a6a';
const TXT = {family: FONT, size: 19.5, color: '#333'};

function axisStyle(extra) {
  return Object.assign({
    showline: true, mirror: true, linecolor: AXCOL, linewidth: 1.2,
    ticks: 'outside', ticklen: 7, tickwidth: 1.1, tickcolor: AXCOL,
    showgrid: false, zeroline: false, fixedrange: true,
    tickmode: 'array', tickfont: TXT
  }, extra);
}

const traces = [];
const annotations = [];
const layout = {
  width: W, height: H,
  margin: {l: 0, r: 0, t: 0, b: 0},
  paper_bgcolor: '#fff', plot_bgcolor: '#fff',
  showlegend: false
};

panels.forEach((p, i) => {
  const s = i === 0 ? '' : String(i + 1);
  const xa = 'x' + s, ya = 'y' + s;
  const [l, rr] = cols[p.c];
  const [t, b] = rows[p.r];

  const xcfg = {domain: [l / W, rr / W], range: p.xr, anchor: ya, tickvals: p.xt, ticklabelstandoff: 4};
  if (p.xtt) xcfg.ticktext = p.xtt;
  layout['xaxis' + s] = axisStyle(xcfg);
  layout['yaxis' + s] = axisStyle({domain: [1 - b / H, 1 - t / H], range: p.yr, anchor: xa, tickvals: p.yt, tickangle: -90, ticklabelstandoff: 10});

  traces.push({
    type: 'scatter', mode: 'markers', xaxis: xa, yaxis: ya, hoverinfo: 'skip',
    x: p.d.x, y: p.d.y,
    marker: {symbol: 'circle-open', size: 7.5, color: 'rgba(66,66,66,0.93)', line: {width: 1.65}}
  });

  // reference line: y = x for observed vs predicted, y = 0 for residuals
  const lo = Math.min(p.xr[0], p.yr[0]), hi = Math.max(p.xr[1], p.yr[1]);
  traces.push({
    type: 'scatter', mode: 'lines', xaxis: xa, yaxis: ya, hoverinfo: 'skip',
    x: p.ref === 'identity' ? [lo, hi] : p.xr,
    y: p.ref === 'identity' ? [lo, hi] : [0, 0],
    line: {color: '#111', width: 1.3}
  });

  // loess smooth
  traces.push({
    type: 'scatter', mode: 'lines', xaxis: xa, yaxis: ya, hoverinfo: 'skip',
    x: p.sx, y: p.sy, line: {color: '#d21414', width: 3, dash: '10px,7px'}
  });

  annotations.push({
    text: xTitles[i], xref: 'paper', yref: 'paper', showarrow: false,
    x: (l + rr) / 2 / W, y: 1 - (b + 68) / H, xanchor: 'center', yanchor: 'middle', font: TXT
  });
  annotations.push({
    text: yTitles[i], xref: 'paper', yref: 'paper', showarrow: false, textangle: -90,
    x: (l - 72) / W, y: 1 - (t + b) / 2 / H, xanchor: 'center', yanchor: 'middle', font: TXT
  });
});

layout.annotations = annotations;

Plotly.newPlot('gof', traces, layout, {staticPlot: true, displayModeBar: false});
</script>
</body>
</html>
